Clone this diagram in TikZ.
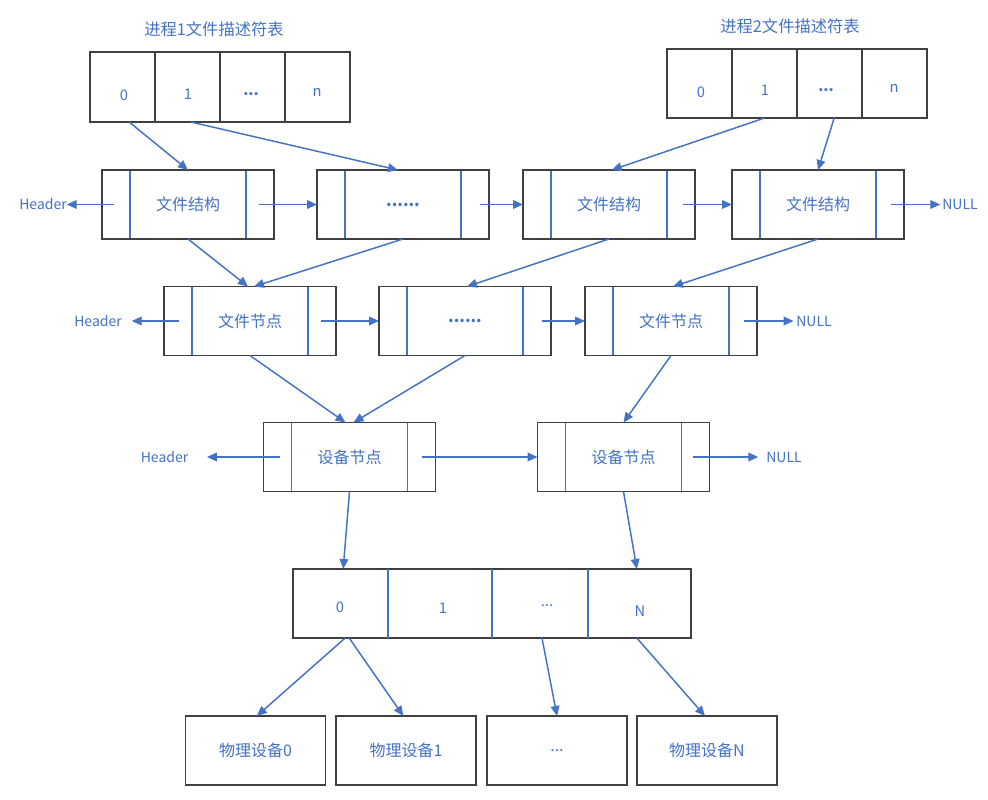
\documentclass[tikz,border=0pt]{standalone}
\usepackage{fontspec}
\setmainfont{Noto Sans CJK SC}
\usetikzlibrary{arrows.meta}
\definecolor{lblue}{RGB}{68,114,196}
\definecolor{bgray}{RGB}{64,64,64}
\begin{document}
\begin{tikzpicture}[x=0.75pt,y=-0.75pt,
  every node/.style={inner sep=0pt, outer sep=0pt, text=lblue, font=\fontsize{12}{14}\selectfont},
  box/.style={draw=bgray, line width=1pt, minimum width=129pt, minimum height=51.75pt},
  listbox/.style={box, path picture={
     \draw[lblue, line width=1pt] ([xshift=21pt]path picture bounding box.north west) -- ([xshift=21pt]path picture bounding box.south west);
     \draw[lblue, line width=1pt] ([xshift=-21pt]path picture bounding box.north east) -- ([xshift=-21pt]path picture bounding box.south east);}},
  cell/.style={draw=bgray, line width=1pt, minimum width=48.75pt},
  devbox/.style={draw=bgray, line width=1pt, minimum width=105pt, minimum height=51.75pt},
  rcell/.style={minimum height=51.75pt},
  lbl/.style={font=\fontsize{11}{13}\selectfont},
  ttl/.style={font=\fontsize{12.2}{14}\selectfont},
  endtxt/.style={font=\fontsize{10.5}{12}\selectfont},
  ptr/.style={draw=lblue, line width=1.1pt, -{Triangle[length=7.5pt,width=6.5pt]}},
  divider/.style={draw=lblue, line width=1pt}]

\fill[white] (0,0) rectangle (988,799);
\useasboundingbox (0,0) rectangle (988,799);

% ---- process 1 file descriptor table
\node[ttl] (t1) at (214,29) {进程1文件描述符表};
\node[cell, minimum height=52.5pt] (p1c0) at (122.5,87) {};
\node[cell, minimum height=52.5pt] (p1c1) at (187.5,87) {};
\node[cell, minimum height=52.5pt] (p1c2) at (252.5,87) {};
\node[cell, minimum height=52.5pt] (p1c3) at (317.5,87) {};
\node[lbl] (p1l0) at (124,95) {0};
\node[lbl] (p1l1) at (188,94) {1};
\node[lbl] (p1l2) at (251,94) {\textbf{...}};
\node[lbl] (p1l3) at (317,92) {n};

% ---- process 2 file descriptor table
\node[ttl] (t2) at (790,26) {进程2文件描述符表};
\node[cell, minimum height=51.75pt] (p2c0) at (699.5,83.5) {};
\node[cell, minimum height=51.75pt] (p2c1) at (764.5,83.5) {};
\node[cell, minimum height=51.75pt] (p2c2) at (829.5,83.5) {};
\node[cell, minimum height=51.75pt] (p2c3) at (894.5,83.5) {};
\node[lbl] (p2l0) at (701,92) {0};
\node[lbl] (p2l1) at (765,90) {1};
\node[lbl] (p2l2) at (826,90) {\textbf{...}};
\node[lbl] (p2l3) at (894,88) {n};

% ---- row 1: file structures
\node[listbox] (A) at (188,204.5) {文件结构};
\node[listbox] (B) at (403,204.5) {\textbf{......}};
\node[listbox] (C) at (609,204.5) {文件结构};
\node[listbox] (D) at (818,204.5) {文件结构};
\node[endtxt] (h1) at (43,204.5) {Header};
\node[endtxt] (n1) at (960,204.5) {NULL};

% ---- row 2: file nodes
\node[listbox] (E) at (250,321) {文件节点};
\node[listbox] (F) at (465,321) {\textbf{......}};
\node[listbox] (G) at (671,321) {文件节点};
\node[endtxt] (h2) at (98,321) {Header};
\node[endtxt] (n2) at (814,321) {NULL};

% ---- row 3: device nodes
\node[listbox] (H) at (349.5,457) {设备节点};
\node[listbox] (I) at (623.5,457) {设备节点};
\node[endtxt] (h3) at (164.5,457) {Header};
\node[endtxt] (n3) at (784,457) {NULL};

% ---- row 4: device table
\node[draw=bgray, line width=1pt, minimum width=298.5pt, minimum height=51.75pt] (T) at (492,603.5) {};
\node[rcell, minimum width=71.25pt] (T0) at (340.5,603.5) {};
\node[rcell, minimum width=78pt] (T1) at (440,603.5) {};
\node[rcell, minimum width=72pt] (T2) at (540,603.5) {};
\node[rcell, minimum width=77.25pt] (T3) at (639.5,603.5) {};
\draw[divider] (T0.north east) -- (T0.south east);
\draw[divider] (T1.north east) -- (T1.south east);
\draw[divider] (T2.north east) -- (T2.south east);
\node[lbl] (Tl0) at (340,607) {0};
\node[lbl] (Tl1) at (443,608) {1};
\node[lbl] (Tl2) at (547,606) {...};
\node[lbl] (Tl3) at (640,611) {N};

% ---- row 5: physical devices
\node[devbox] (P0) at (255.5,750.5) {物理设备0};
\node[devbox] (P1) at (406,750.5) {物理设备1};
\node[devbox] (P2) at (557,750.5) {...};
\node[devbox] (P3) at (707,750.5) {物理设备N};

% ---- connectors: tables -> row 1
\draw[ptr] ([xshift=5pt]p1c0.south) -- (A.north);
\draw[ptr] ([xshift=2.5pt]p1c1.south) -- ([xshift=-3.75pt]B.north);
\draw[ptr] (p2c1.south) -- ([xshift=2pt]C.north);
\draw[ptr] ([xshift=3.5pt]p2c2.south) -- (D.north);

% row 1 horizontal
\draw[ptr] ([xshift=9pt]A.west) -- (h1.east);
\draw[ptr] ([xshift=-11.25pt]A.east) -- (B.west);
\draw[ptr] ([xshift=-6.75pt]B.east) -- (C.west);
\draw[ptr] ([xshift=-9pt]C.east) -- (D.west);
\draw[ptr] ([xshift=-9.75pt]D.east) -- ([xshift=-1.5pt]n1.west);

% row 1 -> row 2
\draw[ptr] (A.south) -- ([xshift=-1.5pt]E.north);
\draw[ptr] (B.south) -- ([xshift=3pt]E.north);
\draw[ptr] (C.south) -- ([xshift=1.5pt]F.north);
\draw[ptr] (D.south) -- ([xshift=1.5pt]G.north);

% row 2 horizontal
\draw[ptr] ([xshift=11.25pt]E.west) -- ([xshift=7.5pt]h2.east);
\draw[ptr] ([xshift=-11.25pt]E.east) -- (F.west);
\draw[ptr] ([xshift=-6.75pt]F.east) -- (G.west);
\draw[ptr] ([xshift=-9.75pt]G.east) -- ([xshift=-2pt]n2.west);

% row 2 -> row 3
\draw[ptr] (E.south) -- ([xshift=-3pt]H.north);
\draw[ptr] (F.south) -- ([xshift=3pt]H.north);
\draw[ptr] (G.south) -- (I.north);

% row 3 horizontal
\draw[ptr] ([xshift=12pt]H.west) -- ([xshift=14pt]h3.east);
\draw[ptr] ([xshift=-10.5pt]H.east) -- (I.west);
\draw[ptr] ([xshift=-12.75pt]I.east) -- ([xshift=-6pt]n3.west);

% row 3 -> device table
\draw[ptr] (H.south) -- ([xshift=2pt]T0.north);
\draw[ptr] (I.south) -- ([xshift=-2pt]T3.north);

% device table -> physical devices
\draw[ptr] ([xshift=3.5pt]T0.south) -- ([xshift=1pt]P0.north);
\draw[ptr] ([xshift=6.5pt]T0.south) -- ([xshift=-2pt]P1.north);
\draw[ptr] ([xshift=1.5pt]T2.south) -- (P2.north);
\draw[ptr] ([xshift=-2pt]T3.south) -- ([xshift=-1.5pt]P3.north);
\end{tikzpicture}
\end{document}
